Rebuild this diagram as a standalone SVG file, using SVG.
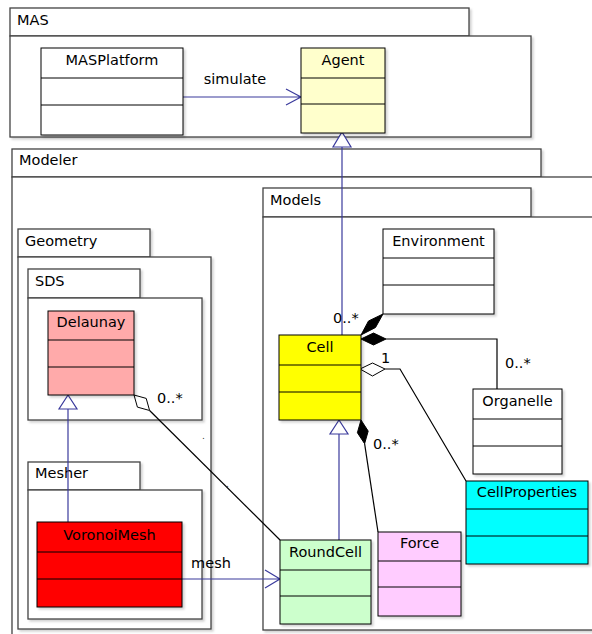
<svg xmlns="http://www.w3.org/2000/svg" width="592" height="634" viewBox="0 0 592 634">
<defs>
<filter id="sh" x="-5%" y="-5%" width="115%" height="115%">
<feDropShadow dx="2" dy="2" stdDeviation="1" flood-color="#000" flood-opacity="0.18"/>
</filter>
<style>
text{font-family:"DejaVu Sans","Liberation Sans",sans-serif;font-size:14.5px;fill:#000}
.pkg{fill:#fff;stroke:#444;stroke-width:1.3;filter:url(#sh)}
.cls{stroke:#000;stroke-width:1;filter:url(#sh)}
.div{stroke:#000;stroke-width:1}
.t{text-anchor:middle}
.blue{stroke:#3a3a9c;stroke-width:1.2;fill:none}
.tri{stroke:#3a3a9c;stroke-width:1.2;fill:#fff}
.ln{stroke:#000;stroke-width:1.2;fill:none}
.fd{fill:#000;stroke:#000;stroke-width:1}
.hd{fill:#fff;stroke:#000;stroke-width:1}
.dot{font-size:9px;fill:#333}
</style>
</defs>
<rect width="592" height="634" fill="#fff"/>

<!-- Packages -->
<g id="pkg-MAS">
<rect class="pkg" x="10" y="8" width="459" height="28"/>
<rect class="pkg" x="10" y="36" width="521" height="101"/>
<text x="17" y="25">MAS</text>
</g>
<g id="pkg-Modeler">
<rect class="pkg" x="12" y="149" width="529" height="28"/>
<rect class="pkg" x="12" y="177" width="640" height="500"/>
<text x="19" y="165">Modeler</text>
</g>
<g id="pkg-Models">
<rect class="pkg" x="263" y="188" width="268" height="29"/>
<rect class="pkg" x="263" y="217" width="400" height="413"/>
<text x="270" y="205">Models</text>
</g>
<g id="pkg-Geometry">
<rect class="pkg" x="18" y="229" width="132" height="28"/>
<rect class="pkg" x="18" y="257" width="193" height="372"/>
<text x="25" y="246">Geometry</text>
</g>
<g id="pkg-SDS">
<rect class="pkg" x="28" y="269" width="112" height="29"/>
<rect class="pkg" x="28" y="298" width="174" height="122"/>
<text x="35" y="286">SDS</text>
</g>
<g id="pkg-Mesher">
<rect class="pkg" x="28" y="462" width="112" height="28"/>
<rect class="pkg" x="28" y="490" width="174" height="129"/>
<text x="35" y="478">Mesher</text>
</g>

<!-- Connectors -->
<g id="connectors">
<!-- simulate -->
<path class="blue" d="M181,97 H301 M286,89 L301,97 L286,105"/>
<text class="t" x="235" y="84">simulate</text>
<!-- Cell generalizes Agent -->
<path class="blue" d="M342,335 V147"/>
<path class="tri" d="M342,132 L351,147 L333,147 Z"/>
<!-- VoronoiMesh generalizes Delaunay -->
<path class="blue" d="M68,522 V409"/>
<path class="tri" d="M68,395 L77,409 L59,409 Z"/>
<!-- RoundCell generalizes Cell -->
<path class="blue" d="M339,540 V434"/>
<path class="tri" d="M339,420 L348,434 L330,434 Z"/>
<!-- mesh -->
<path class="blue" d="M182,579 H280 M265,570 L280,579 L265,588"/>
<text class="t" x="211" y="568">mesh</text>
<!-- Environment composition -->
<path class="fd" d="M361,335 L375.5,327.5 L383,314 L368.5,321 Z"/>
<text x="333" y="323">0..*</text>
<!-- Organelle composition -->
<path class="ln" d="M386,339 H497 V389"/>
<path class="fd" d="M361,339 L373.5,333 L386,339 L373.5,345 Z"/>
<text x="505" y="368">0..*</text>
<!-- CellProperties aggregation -->
<path class="ln" d="M385,369 H400 L466,481"/>
<path class="hd" d="M360,369 L372.5,363 L385,369 L372.5,376 Z"/>
<text x="381" y="363">1</text>
<!-- Force composition -->
<path class="ln" d="M364.6,443.7 L378,532"/>
<path class="fd" d="M361,420 L368.2,431.1 L364.6,443.7 L357.4,432.7 Z"/>
<text x="373" y="449">0..*</text>
<!-- Delaunay aggregation -->
<path class="ln" d="M149.6,410.5 L280,540"/>
<path class="hd" d="M134,395 L146.2,398.4 L149.6,410.5 L137.4,407.1 Z"/>
<text x="157" y="403">0..*</text>
<text class="dot" x="202" y="439">.</text>
<text class="dot" x="226" y="487">.</text>
</g>

<!-- Classes -->
<g id="MASPlatform">
<rect class="cls" x="41" y="48" width="142" height="87" fill="#fff"/>
<path class="div" d="M41,78 H183 M41,105 H183"/>
<text class="t" x="112" y="65">MASPlatform</text>
</g>
<g id="Agent">
<rect class="cls" x="301" y="48" width="84" height="85" fill="#ffffcc"/>
<path class="div" d="M301,78 H385 M301,104 H385"/>
<text class="t" x="343" y="65">Agent</text>
</g>
<g id="Environment">
<rect class="cls" x="383" y="229" width="111" height="85" fill="#fff"/>
<path class="div" d="M383,258 H494 M383,285 H494"/>
<text class="t" x="438.5" y="246">Environment</text>
</g>
<g id="Delaunay">
<rect class="cls" x="48" y="311" width="86" height="84" fill="#ffaaaa"/>
<path class="div" d="M48,340 H134 M48,367 H134"/>
<text class="t" x="91" y="327">Delaunay</text>
</g>
<g id="Cell">
<rect class="cls" x="279" y="335" width="82" height="85" fill="#ffff00"/>
<path class="div" d="M279,365 H361 M279,392 H361"/>
<text class="t" x="320" y="352">Cell</text>
</g>
<g id="Organelle">
<rect class="cls" x="473" y="389" width="89" height="85" fill="#fff"/>
<path class="div" d="M473,419 H562 M473,446 H562"/>
<text class="t" x="517.5" y="406">Organelle</text>
</g>
<g id="CellProperties">
<rect class="cls" x="466" y="481" width="122" height="83" fill="#00ffff"/>
<path class="div" d="M466,509 H588 M466,536 H588"/>
<text class="t" x="527" y="497">CellProperties</text>
</g>
<g id="VoronoiMesh">
<rect class="cls" x="37" y="522" width="145" height="85" fill="#ff0000"/>
<path class="div" d="M37,552 H182 M37,579 H182"/>
<text class="t" x="109.5" y="540">VoronoiMesh</text>
</g>
<g id="RoundCell">
<rect class="cls" x="280" y="540" width="91" height="84" fill="#ccffcc"/>
<path class="div" d="M280,570 H371 M280,596 H371"/>
<text class="t" x="325.5" y="557">RoundCell</text>
</g>
<g id="Force">
<rect class="cls" x="378" y="532" width="83" height="84" fill="#ffccff"/>
<path class="div" d="M378,561 H461 M378,587 H461"/>
<text class="t" x="419.5" y="548">Force</text>
</g>
</svg>
